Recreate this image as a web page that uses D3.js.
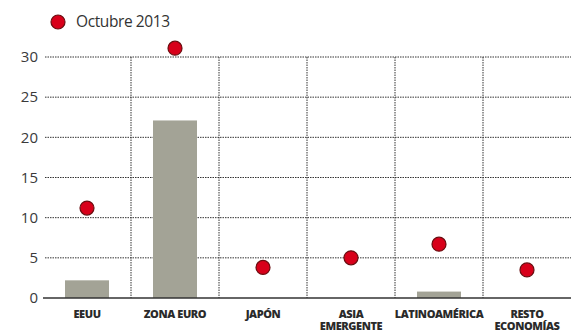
<!DOCTYPE html>
<html>
<head>
<meta charset="utf-8">
<script src="https://cdn.jsdelivr.net/npm/d3@7"></script>
<style>
  body { margin: 0; background: #fff; }
  svg { display: block; font-family: 'Open Sans', 'Noto Sans', sans-serif; }
</style>
</head>
<body>
<div id="chart"></div>
<script>

const categories = [['EEUU'], ['ZONA EURO'], ['JAPÓN'], ['ASIA', 'EMERGENTE'], ['LATINOAMÉRICA'], ['RESTO', 'ECONOMÍAS']];
const barValues  = [2.2, 22.1, 0, 0, 0.8, 0];
const dotValues  = [11.2, 31.1, 3.8, 5.0, 6.7, 3.5];
const yTicks     = [0, 5, 10, 15, 20, 25, 30];
const legendLabel = 'Octubre 2013';

const W = 579, H = 334,
      plotL = 43, plotR = 571,
      plotT = 57, plotB = 298;

const svg = d3.select('#chart').append('svg')
  .attr('width', W)
  .attr('height', H);

const x = d3.scaleBand()
  .domain(d3.range(categories.length))
  .range([plotL, plotR])
  .paddingInner(0)
  .paddingOuter(0);

const y = d3.scaleLinear()
  .domain([0, 30])
  .range([plotB, plotT]);

// grid

const grid = svg.append('g');

yTicks.filter(d => d > 0).forEach((t) => {
  grid.append('line')
    .attr('x1', plotL + 2)
    .attr('x2', plotR)
    .attr('y1', y(t))
    .attr('y2', y(t))
    .attr('stroke', '#333')
    .attr('stroke-width', 1)
    .attr('stroke-dasharray', '1.5,1');
});

d3.range(1, categories.length).forEach((i) => {
  grid.append('line')
    .attr('x1', x(i))
    .attr('x2', x(i))
    .attr('y1', y(30))
    .attr('y2', plotB)
    .attr('stroke', '#333')
    .attr('stroke-width', 1)
    .attr('stroke-dasharray', '1.5,1');
});

// y tick labels

const yAxis = svg.append('g')
  .attr('transform', `translate(${plotL},0)`)
  .call(d3.axisLeft(y).tickValues(yTicks).tickSize(0).tickPadding(5));

yAxis.select('.domain').remove();
yAxis.selectAll('text')
  .attr('font-size', 15)
  .attr('fill', '#3a3a3a')
  .attr('font-family', "'Open Sans', sans-serif");

// bars

svg.append('g').selectAll('rect')
  .data(barValues)
  .join('rect')
  .attr('x', (d, i) => x(i) + x.bandwidth() * 0.25)
  .attr('width', x.bandwidth() * 0.5)
  .attr('y', d => y(d))
  .attr('height', d => plotB - y(d))
  .attr('fill', '#a3a396');

// baseline

svg.append('line')
  .attr('x1', plotL)
  .attr('x2', plotR)
  .attr('y1', plotB)
  .attr('y2', plotB)
  .attr('stroke', '#333')
  .attr('stroke-width', 1.5);

// dots

svg.append('g').selectAll('circle')
  .data(dotValues)
  .join('circle')
  .attr('cx', (d, i) => x(i) + x.bandwidth() / 2)
  .attr('cy', d => y(d))
  .attr('r', 7)
  .attr('fill', '#d8001a')
  .attr('stroke', '#6a0d10')
  .attr('stroke-width', 1.2);

// category labels

const labels = svg.append('g');

categories.forEach((lines, i) => {
  const t = labels.append('text')
    .attr('text-anchor', 'middle')
    .attr('font-size', 11)
    .attr('font-weight', 800)
    .attr('fill', '#2a2a2a')
    .attr('font-family', "'Open Sans', sans-serif")
    .attr('letter-spacing', -0.4);

  lines.forEach((l, j) => {
    t.append('tspan')
      .attr('x', x(i) + x.bandwidth() / 2)
      .attr('y', 318 + j * 12)
      .text(l);
  });
});

// legend

svg.append('circle')
  .attr('cx', 58)
  .attr('cy', 22)
  .attr('r', 7)
  .attr('fill', '#d8001a')
  .attr('stroke', '#6a0d10')
  .attr('stroke-width', 1.2);

svg.append('text')
  .attr('x', 76)
  .attr('y', 27)
  .attr('font-size', 15.5)
  .attr('fill', '#333')
  .attr('letter-spacing', -0.4)
  .text(legendLabel);

</script>
</body>
</html>
